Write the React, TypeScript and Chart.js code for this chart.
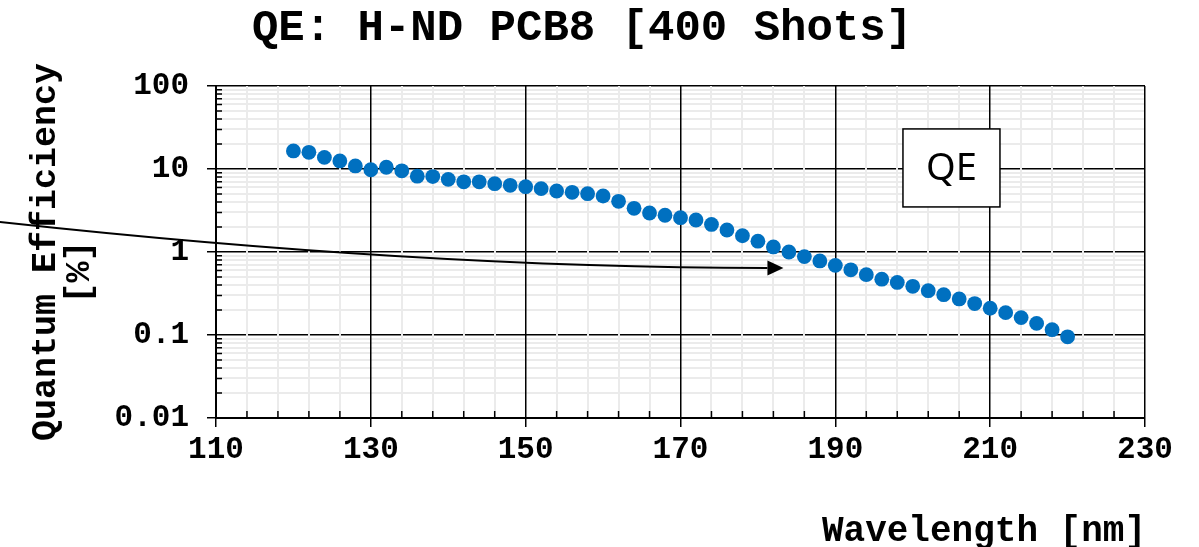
import React, { useEffect, useRef } from 'react';
import { Chart, registerables } from 'chart.js';

Chart.register(...registerables);

// Measured quantum efficiency vs. wavelength
const wavelengths = [
  120, 122, 124, 126, 128, 130, 132, 134, 136, 138,
  140, 142, 144, 146, 148, 150, 152, 154, 156, 158,
  160, 162, 164, 166, 168, 170, 172, 174, 176, 178,
  180, 182, 184, 186, 188, 190, 192, 194, 196, 198,
  200, 202, 204, 206, 208, 210, 212, 214, 216, 218,
  220,
];
const qePercent = [
  16.5, 15.9, 13.8, 12.5, 10.9, 9.8, 10.5, 9.5, 8.2, 8.1,
  7.5, 7.0, 7.0, 6.65, 6.36, 6.12, 5.8, 5.43, 5.24, 5.04,
  4.73, 4.08, 3.36, 2.95, 2.77, 2.59, 2.43, 2.15, 1.84, 1.57,
  1.35, 1.15, 1.0, 0.88, 0.78, 0.69, 0.61, 0.533, 0.47, 0.43,
  0.386, 0.342, 0.306, 0.272, 0.239, 0.21, 0.186, 0.162, 0.138, 0.116,
  0.095,
];

const xLabelValues = [110, 130, 150, 170, 190, 210, 230];
const xMinorStep = 4;
const yLabelValues = [0.01, 0.1, 1, 10, 100];

const chartTitle = 'QE: H-ND PCB8 [400 Shots]';
const xTitle = 'Wavelength [nm]';
const yTitleLines = ['Quantum Efficiency', '[%]'];
const seriesName = 'QE';

// Curved call-out arrow, in axis units (start, bend control, tip)
const arrowStart = { x: 82.0, y: 2.3 };
const arrowControl = { x: 136.3, y: 0.642 };
const arrowTip = { x: 183.3, y: 0.642 };
// Series name box centre, in axis units
const nameBoxCenter = { x: 205.0, y: 10.3 };

const MONO = "'Courier New', 'Liberation Mono', monospace";
const SANS = "'Noto Sans', 'Open Sans', sans-serif";
const MINOR_GRID = '#EBEBEB';

const isDecade = (v: number) => {
  const l = Math.log10(v);
  return Math.abs(l - Math.round(l)) < 1e-6;
};

const xTickValues: number[] = [];
for (let v = xLabelValues[0]; v <= xLabelValues[xLabelValues.length - 1] + 1e-9; v += xMinorStep) {
  xTickValues.push(v);
}
const yTickValues: number[] = [];
for (let i = 0; i < yLabelValues.length - 1; i++) {
  for (let m = 1; m <= 9; m++) yTickValues.push(+(yLabelValues[i] * m).toPrecision(6));
}
yTickValues.push(yLabelValues[yLabelValues.length - 1]);

const formatDecade = (v: number) => {
  const e = Math.round(Math.log10(v));
  return e >= 0 ? String(Math.pow(10, e)) : Math.pow(10, e).toFixed(-e);
};

const decorations = {
  id: 'decorations',
  afterDraw(chart: any) {
    const { ctx, chartArea: a, scales } = chart;
    const xs = scales.x;
    const ys = scales.y;
    ctx.save();

    // inward minor tick marks
    ctx.strokeStyle = '#000';
    ctx.lineWidth = 1.5;
    ctx.beginPath();
    xs.ticks.forEach((t: any) => {
      if (xLabelValues.includes(t.value)) return;
      const px = xs.getPixelForValue(t.value);
      ctx.moveTo(px, a.bottom);
      ctx.lineTo(px, a.bottom - 7);
    });
    ys.ticks.forEach((t: any) => {
      if (isDecade(t.value)) return;
      const py = ys.getPixelForValue(t.value);
      ctx.moveTo(a.left, py);
      ctx.lineTo(a.left + 6, py);
    });
    ctx.stroke();

    // chart title
    ctx.fillStyle = '#000';
    ctx.textBaseline = 'alphabetic';
    ctx.textAlign = 'center';
    ctx.font = `bold 44px ${MONO}`;
    ctx.fillText(chartTitle, 582, 40);

    // x axis title
    ctx.font = `bold 36px ${MONO}`;
    ctx.textAlign = 'right';
    ctx.fillText(xTitle, a.right + 1, 541);

    // y axis title, two rotated lines
    ctx.font = `bold 35px ${MONO}`;
    ctx.textAlign = 'center';
    ctx.save();
    ctx.translate(55, 252);
    ctx.rotate(-Math.PI / 2);
    ctx.fillText(yTitleLines[0], 0, 0);
    ctx.restore();
    ctx.save();
    ctx.translate(89, 272);
    ctx.rotate(-Math.PI / 2);
    ctx.fillText(yTitleLines[1], 0, 0);
    ctx.restore();

    // series name box
    const bx = xs.getPixelForValue(nameBoxCenter.x);
    const by = ys.getPixelForValue(nameBoxCenter.y);
    const bw = 97;
    const bh = 78;
    ctx.fillStyle = '#fff';
    ctx.fillRect(bx - bw / 2, by - bh / 2, bw, bh);
    ctx.strokeStyle = '#000';
    ctx.lineWidth = 1.5;
    ctx.strokeRect(bx - bw / 2, by - bh / 2, bw, bh);
    ctx.fillStyle = '#000';
    ctx.font = `38px ${SANS}`;
    ctx.textAlign = 'center';
    ctx.textBaseline = 'middle';
    ctx.fillText(seriesName, bx, by + 1);

    // curved arrow
    const p0 = { x: xs.getPixelForValue(arrowStart.x), y: ys.getPixelForValue(arrowStart.y) };
    const p1 = { x: xs.getPixelForValue(arrowControl.x), y: ys.getPixelForValue(arrowControl.y) };
    const p2 = { x: xs.getPixelForValue(arrowTip.x), y: ys.getPixelForValue(arrowTip.y) };
    const headLen = 16;
    const headHalf = 7.5;
    const ang = Math.atan2(p2.y - p1.y, p2.x - p1.x);
    const base = { x: p2.x - headLen * Math.cos(ang), y: p2.y - headLen * Math.sin(ang) };
    ctx.strokeStyle = '#000';
    ctx.lineWidth = 2;
    ctx.beginPath();
    ctx.moveTo(p0.x, p0.y);
    ctx.quadraticCurveTo(p1.x, p1.y, base.x, base.y);
    ctx.stroke();
    ctx.beginPath();
    ctx.moveTo(p2.x, p2.y);
    ctx.lineTo(base.x + headHalf * Math.sin(ang), base.y - headHalf * Math.cos(ang));
    ctx.lineTo(base.x - headHalf * Math.sin(ang), base.y + headHalf * Math.cos(ang));
    ctx.closePath();
    ctx.fill();

    ctx.restore();
  },
};

export default function App() {
  const canvasRef = useRef<HTMLCanvasElement | null>(null);

  useEffect(() => {
    const canvas = canvasRef.current;
    if (!canvas) return;
    const tickFont = { family: MONO, size: 31, weight: 'bold' as const };

    const chart = new Chart(canvas, {
      type: 'scatter',
      data: {
        datasets: [
          {
            label: seriesName,
            data: wavelengths.map((w, i) => ({ x: w, y: qePercent[i] })),
            backgroundColor: '#0070C0',
            borderWidth: 0,
            pointRadius: 7.4,
            pointHoverRadius: 7.4,
          },
        ],
      },
      options: {
        animation: false,
        responsive: false,
        maintainAspectRatio: false,
        events: [],
        layout: { padding: { top: 86, right: 54, bottom: 0, left: 0 } },
        plugins: {
          legend: { display: false },
          tooltip: { enabled: false },
          title: { display: false },
        },
        scales: {
          y: {
            type: 'logarithmic',
            min: yLabelValues[0],
            max: yLabelValues[yLabelValues.length - 1],
            afterBuildTicks: (scale: any) => {
              scale.ticks = yTickValues.map((v) => ({ value: v }));
            },
            afterFit: (scale: any) => {
              scale.width = 216;
              scale.paddingTop = 0;
              scale.paddingBottom = 0;
            },
            grid: {
              z: -1,
              color: (c: any) => (isDecade(c.tick.value) ? '#000' : MINOR_GRID),
              lineWidth: (c: any) => (isDecade(c.tick.value) ? 1.5 : 2),
              tickLength: 9,
              tickColor: (c: any) => (isDecade(c.tick.value) ? '#000' : 'rgba(0,0,0,0)'),
              tickWidth: 1.5,
            },
            border: { display: true, color: '#000', width: 2 },
            ticks: {
              autoSkip: false,
              color: '#000',
              font: tickFont,
              padding: 18,
              callback: (v: any) => (isDecade(Number(v)) ? formatDecade(Number(v)) : ''),
            },
          },
          x: {
            type: 'linear',
            min: xLabelValues[0],
            max: xLabelValues[xLabelValues.length - 1],
            afterBuildTicks: (scale: any) => {
              scale.ticks = xTickValues.map((v) => ({ value: v }));
            },
            afterFit: (scale: any) => {
              scale.height = 129;
              scale.paddingLeft = 0;
              scale.paddingRight = 0;
            },
            grid: {
              color: (c: any) => (xLabelValues.includes(c.tick.value) ? '#000' : MINOR_GRID),
              lineWidth: (c: any) => (xLabelValues.includes(c.tick.value) ? 1.5 : 2),
              tickLength: 9,
              tickColor: (c: any) => (xLabelValues.includes(c.tick.value) ? '#000' : 'rgba(0,0,0,0)'),
              tickWidth: 1.5,
            },
            border: { display: true, color: '#000', width: 2 },
            ticks: {
              autoSkip: false,
              maxRotation: 0,
              minRotation: 0,
              color: '#000',
              font: tickFont,
              padding: 5,
              callback: (v: any) => (xLabelValues.includes(Number(v)) ? String(v) : ''),
            },
          },
        },
      },
      plugins: [decorations],
    });

    return () => chart.destroy();
  }, []);

  return (
    <div style={{ position: 'absolute', left: 0, top: 0, width: 1199, height: 547, background: '#fff' }}>
      <canvas ref={canvasRef} width={1199} height={547} style={{ display: 'block' }} />
    </div>
  );
}
